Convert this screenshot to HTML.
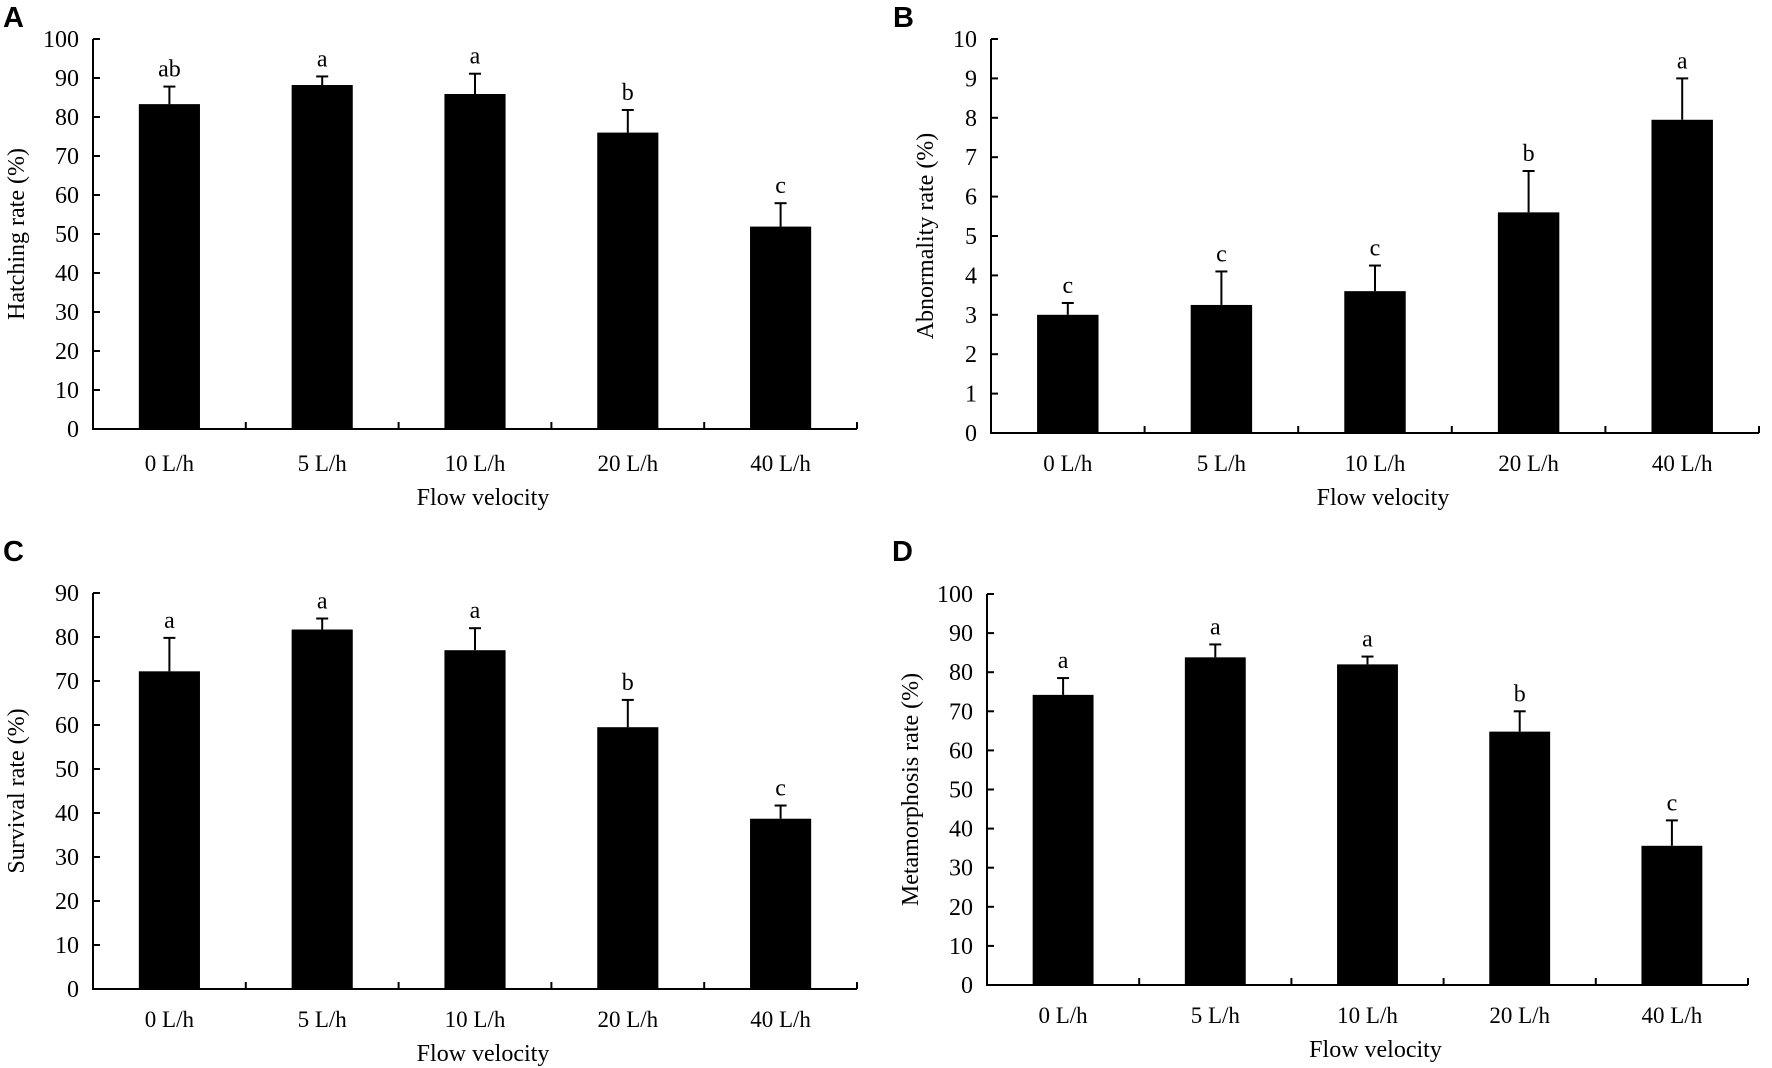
<!DOCTYPE html>
<html><head><meta charset="utf-8"><style>
html,body{margin:0;padding:0;background:#fff;}
svg{display:block;font-family:"Liberation Serif",serif;}
.pl{font-family:"Liberation Sans",sans-serif;font-weight:bold;font-size:29px;}
</style></head><body>
<svg id="fig" width="1772" height="1068" viewBox="0 0 1772 1068"></svg>
<script>
const categories = ["0 L/h","5 L/h","10 L/h","20 L/h","40 L/h"];
const hatchMean = [83.3,88.2,85.9,76.0,51.9];
const hatchErr = [4.5,2.2,5.2,5.8,6.0];
const hatchLetters = ["ab","a","a","b","c"];
const abnMean = [3.0,3.25,3.6,5.6,7.95];
const abnErr = [0.3,0.85,0.65,1.05,1.05];
const abnLetters = ["c","c","c","b","a"];
const survMean = [72.2,81.7,77.0,59.5,38.7];
const survErr = [7.6,2.5,5.0,6.2,3.0];
const survLetters = ["a","a","a","b","c"];
const metaMean = [74.2,83.8,82.0,64.8,35.6];
const metaErr = [4.3,3.3,2.0,5.2,6.5];
const metaLetters = ["a","a","a","b","c"];
const hatchTicks = [0,10,20,30,40,50,60,70,80,90,100];
const abnTicks = [0,1,2,3,4,5,6,7,8,9,10];
const survTicks = [0,10,20,30,40,50,60,70,80,90];
const metaTicks = [0,10,20,30,40,50,60,70,80,90,100];

const NS="http://www.w3.org/2000/svg";
const svg=document.getElementById('fig');
function mk(tag,attrs,parent,text){const e=document.createElementNS(NS,tag);for(const k in attrs)e.setAttribute(k,attrs[k]);if(text!==undefined)e.textContent=text;(parent||svg).appendChild(e);return e;}

function panel(cfg){
  const g=mk('g',{});
  
  
  const {x0,x1,y0,yTop,max}=cfg;
  const step=(x1-x0)/categories.length;
  const sx=i=>x0+step*(i+0.5);
  const sy=v=>y0-(v/max)*(y0-yTop);
  const lbl=mk('text',{x:cfg.lx,y:cfg.ly,class:'pl'},g,cfg.letter);
  
  
  // axes
  const ya=mk('line',{x1:x0,y1:sy(max),x2:x0,y2:y0,stroke:'#000','stroke-width':2},g);
  
  
  const xa=mk('line',{x1:x0-1,y1:y0,x2:x1,y2:y0,stroke:'#000','stroke-width':2},g);
  
  
  cfg.ticks.forEach(t=>{
    mk('line',{x1:x0,y1:sy(t),x2:x0+7,y2:sy(t),stroke:'#000','stroke-width':2},g);
    const tl=mk('text',{x:x0-14,y:sy(t)+8,'font-size':24,'text-anchor':'end'},g,String(t));
    
    
  });
  for(let i=1;i<=categories.length;i++){
    const xx=x0+step*i;
    mk('line',{x1:xx,y1:y0,x2:xx,y2:y0-7,stroke:'#000','stroke-width':2},g);
  }
  categories.forEach((c,i)=>{
    const v=cfg.mean[i],e=cfg.err[i];
    const bw=step*0.4;
    const b=mk('rect',{x:sx(i)-bw/2,y:sy(v),width:bw,height:y0-sy(v),fill:'#000'},g);
    
    
    mk('line',{x1:sx(i),y1:sy(v),x2:sx(i),y2:sy(v+e),stroke:'#000','stroke-width':2},g);
    mk('line',{x1:sx(i)-6,y1:sy(v+e),x2:sx(i)+6,y2:sy(v+e),stroke:'#000','stroke-width':2},g);
    const sl=mk('text',{x:sx(i),y:sy(v+e)-10,'font-size':24,'text-anchor':'middle'},g,cfg.letters[i]);
    
    
    const cl=mk('text',{x:sx(i),y:cfg.catY,'font-size':23,'text-anchor':'middle'},g,c);
    
    
  });
  const xt=mk('text',{x:(x0+x1)/2+8,y:cfg.catY+34,'font-size':24,'text-anchor':'middle'},g,'Flow velocity');
  
  
  const yc=(sy(max)+y0)/2;
  const yt=mk('text',{x:cfg.tx,y:yc,'font-size':24,'text-anchor':'middle',transform:`rotate(-90 ${cfg.tx} ${yc})`,'dominant-baseline':'central'},g,cfg.title);
  
  
}
panel({name:'panel-a-hatching',letter:'A',lx:3,ly:27,x0:93,x1:857,y0:429,yTop:39,max:100,ticks:hatchTicks,mean:hatchMean,err:hatchErr,letters:hatchLetters,catY:471,tx:17,title:'Hatching rate (%)'});
panel({name:'panel-b-abnormality',letter:'B',lx:893,ly:27,x0:991,x1:1759,y0:433,yTop:39,max:10,ticks:abnTicks,mean:abnMean,err:abnErr,letters:abnLetters,catY:471,tx:926,title:'Abnormality rate (%)'});
panel({name:'panel-c-survival',letter:'C',lx:3,ly:561,x0:93,x1:857,y0:989,yTop:593,max:90,ticks:survTicks,mean:survMean,err:survErr,letters:survLetters,catY:1027,tx:17,title:'Survival rate (%)'});
panel({name:'panel-d-metamorphosis',letter:'D',lx:892,ly:561,x0:987,x1:1748,y0:985,yTop:594,max:100,ticks:metaTicks,mean:metaMean,err:metaErr,letters:metaLetters,catY:1023,tx:911,title:'Metamorphosis rate (%)'});
</script>
</body></html>
